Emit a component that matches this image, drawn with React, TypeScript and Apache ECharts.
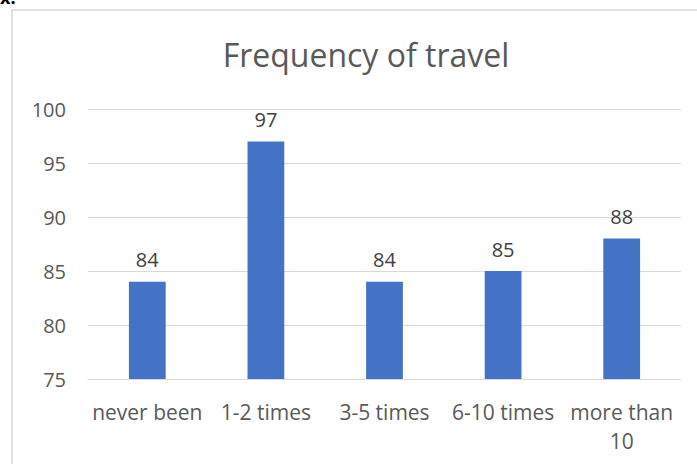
import React, { useEffect, useRef } from "react";
import * as echarts from "echarts";

const categories = ["never been", "1-2 times", "3-5 times", "6-10 times", "more than\n10"];
const values = [84, 97, 84, 85, 88];
const titleText = "Frequency of travel";
const yMin = 75;
const yMax = 100;
const yStep = 5;

const FONT = "'Open Sans', sans-serif";

export default function App() {
  const ref = useRef<HTMLDivElement>(null);
  useEffect(() => {
    if (!ref.current) return;
    const chart = echarts.init(ref.current, undefined, { renderer: "svg" });
    chart.setOption({
      animation: false,
      backgroundColor: "#ffffff",
      title: {
        text: titleText,
        left: 361,
        top: 33,
        textAlign: "center",
        textStyle: { fontFamily: FONT, fontSize: 32, fontWeight: "normal", color: "#595959" },
      },
      graphic: [
        {
          type: "rect",
          shape: { x: 12, y: 10, width: 720, height: 480 },
          style: { fill: "none", stroke: "#d9d9d9", lineWidth: 1.5 },
          silent: true,
        },
        {
          type: "text",
          x: 0,
          y: -12,
          style: { text: "x:", fontFamily: FONT, fontSize: 18, fontWeight: "bold", fill: "#000000" },
        },
      ],
      grid: { left: 88, right: 16, top: 109, bottom: 85, containLabel: false },
      xAxis: {
        type: "category",
        data: categories,
        axisLine: { show: true, lineStyle: { color: "#d9d9d9", width: 1 } },
        axisTick: { show: false },
        axisLabel: {
          interval: 0,
          margin: 18,
          fontFamily: FONT,
          fontSize: 21,
          color: "#595959",
          lineHeight: 29,
        },
      },
      yAxis: {
        type: "value",
        min: yMin,
        max: yMax,
        interval: yStep,
        axisLine: { show: false },
        axisTick: { show: false },
        splitLine: { lineStyle: { color: "#d9d9d9", width: 1 } },
        axisLabel: { fontFamily: FONT, fontSize: 20, color: "#595959", margin: 22 },
      },
      series: [
        {
          type: "bar",
          data: values,
          barWidth: "31%",
          itemStyle: { color: "#4472c4" },
          label: {
            show: true,
            position: "top",
            distance: 12,
            fontFamily: FONT,
            fontSize: 20,
            color: "#404040",
          },
        },
      ],
    });
    return () => chart.dispose();
  }, []);
  return (
    <div
      ref={ref}
      style={{ position: "fixed", left: 0, top: 0, width: 697, height: 464, background: "#fff" }}
    />
  );
}
